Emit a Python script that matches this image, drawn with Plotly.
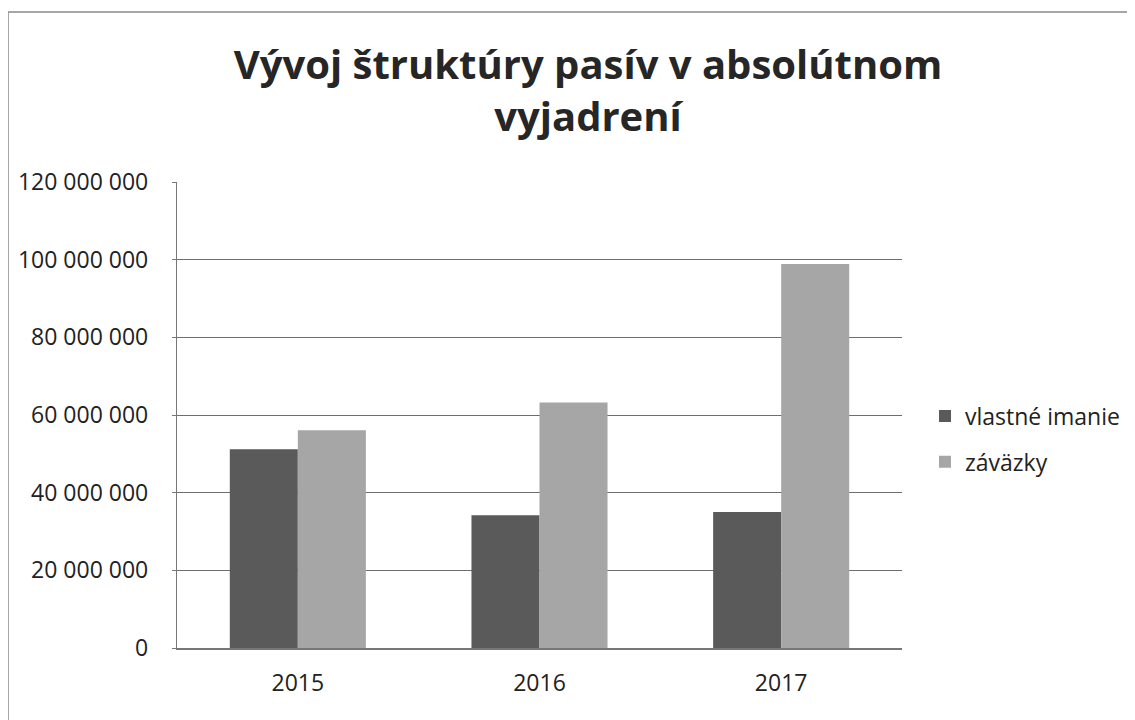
import plotly.graph_objects as go

years = ["2015", "2016", "2017"]
vlastne_imanie = [51_200_000, 34_200_000, 35_000_000]
zavazky = [56_100_000, 63_200_000, 98_900_000]
series_names = ["vlastné imanie", "záväzky"]
tick_vals = [0, 20_000_000, 40_000_000, 60_000_000, 80_000_000, 100_000_000, 120_000_000]
tick_text = ["0", "20 000 000", "40 000 000", "60 000 000", "80 000 000", "100 000 000", "120 000 000"]
title_text = "Vývoj štruktúry pasív v absolútnom<br>vyjadrení"

FONT = "Open Sans"
W, H = 1135, 720
OFF = 8  # page body margin
# plot area in reference (screen) pixels
L, R, T, B = 177, 902, 182, 648

fig = go.Figure()
fig.add_trace(go.Bar(x=years, y=vlastne_imanie, name=series_names[0],
                     marker=dict(color="#5a5a5a", line=dict(width=0)),
                     legendgroup="a"))
fig.add_trace(go.Bar(x=years, y=zavazky, name=series_names[1],
                     marker=dict(color="#a6a6a6", line=dict(width=0)),
                     legendgroup="b"))


def px_x(x):
    return (x - L) / (R - L)


def px_y(y):
    return (B - y) / (B - T)


fig.update_layout(
    width=W, height=H,
    margin=dict(l=L - OFF, r=W - (R - OFF), t=T - OFF, b=H - (B - OFF), autoexpand=False),
    paper_bgcolor="white", plot_bgcolor="white",
    barmode="group", bargap=0.437, bargroupgap=0,
    font=dict(family=FONT, color="#222222"),
    title=dict(text=title_text, x=(588 - OFF) / W, xanchor="center",
               y=1 - (79 - OFF) / H, yanchor="middle",
               font=dict(family=FONT, size=40, color="#262626", weight="bold")),
    legend=dict(x=px_x(925), xanchor="left", y=px_y(439), yanchor="middle",
                font=dict(family=FONT, size=23, color="#222222"),
                traceorder="grouped", tracegroupgap=13, itemwidth=30,
                bgcolor="rgba(0,0,0,0)"),
    xaxis=dict(showgrid=False, showline=True, linecolor="#777777", linewidth=1.5,
               ticks="", tickfont=dict(family=FONT, size=23, color="#222222"),
               ticklabelstandoff=14),
    yaxis=dict(range=[0, 120_000_000], tickvals=tick_vals, ticktext=tick_text,
               showgrid=True, gridcolor="#6e6e6e", gridwidth=1.3,
               showline=True, linecolor="#777777", linewidth=1.3,
               ticks="outside", ticklen=4, tickcolor="#777777",
               tickfont=dict(family=FONT, size=23, color="#222222"),
               ticklabelstandoff=19, zeroline=False),
    shapes=[dict(type="rect", xref="paper", yref="paper",
                 x0=px_x(8), x1=px_x(1150), y0=px_y(740), y1=px_y(12),
                 line=dict(color="#8a8a8a", width=1.5), layer="below")],
)

fig.write_html("out.html")
